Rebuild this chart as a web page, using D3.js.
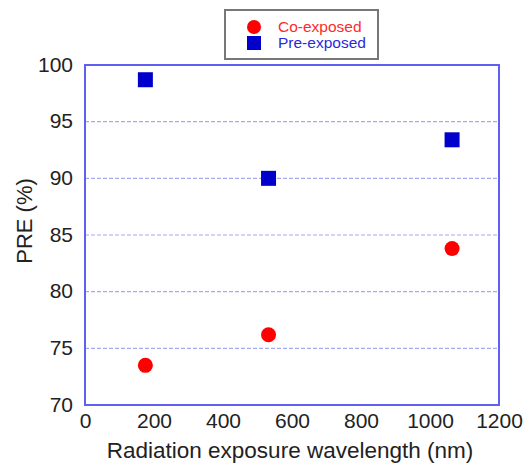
<!DOCTYPE html>
<html>
<head>
<meta charset="utf-8">
<script src="https://cdn.jsdelivr.net/npm/d3@7"></script>
<style>
  body { margin: 0; background: #fff; }
  text { font-family: "Liberation Sans", Arial, sans-serif; }
</style>
</head>
<body>
<div id="chart"></div>
<script>
// wavelengths (nm) and PRE values
var wavelengths = [175, 532, 1064];
var coExposed = [73.5, 76.2, 83.8];
var preExposed = [98.7, 90.0, 93.4];
var xTicks = [0, 200, 400, 600, 800, 1000, 1200];
var yTicks = [70, 75, 80, 85, 90, 95, 100];

var param = {
    width: 524,
    height: 466,
    left: 85,
    right: 499,
    top: 65,
    bottom: 405
};

var svg = d3.select("#chart").append("svg")
    .attr("width", param.width)
    .attr("height", param.height);

var x = d3.scaleLinear().domain([0, 1200]).range([param.left, param.right]);
var y = d3.scaleLinear().domain([70, 100]).range([param.bottom, param.top]);

// dashed grid
svg.append("g").selectAll("line")
    .data(yTicks.filter(function(d){ return d > 70 && d < 100; }))
    .enter().append("line")
    .attr("x1", param.left).attr("x2", param.right)
    .attr("y1", function(d){ return y(d); })
    .attr("y2", function(d){ return y(d); })
    .attr("stroke", "#a8a8f0")
    .attr("stroke-width", 1.2)
    .attr("stroke-dasharray", "4,2");

// frame
svg.append("rect")
    .attr("x", param.left).attr("y", param.top)
    .attr("width", param.right - param.left)
    .attr("height", param.bottom - param.top)
    .attr("fill", "none")
    .attr("stroke", "#6060f0")
    .attr("stroke-width", 2);

// axes (labels only, frame drawn above)
var yAxis = svg.append("g")
    .attr("transform", "translate(" + param.left + ",0)")
    .call(d3.axisLeft(y).tickValues(yTicks).tickFormat(d3.format("d")).tickSize(0).tickPadding(12));
var xAxis = svg.append("g")
    .attr("transform", "translate(0," + param.bottom + ")")
    .call(d3.axisBottom(x).tickValues(xTicks).tickFormat(d3.format("d")).tickSize(0).tickPadding(8));
[xAxis, yAxis].forEach(function(a){
    a.select(".domain").remove();
    a.selectAll("text")
	.attr("fill", "#222")
	.style("font-size", "21px");
});
yAxis.selectAll("text").attr("dy", "0.3em");

svg.append("text")
    .attr("x", 290)
    .attr("y", 458)
    .attr("text-anchor", "middle")
    .attr("fill", "#222")
    .style("font-size", "22.5px")
    .text("Radiation exposure wavelength (nm)");

svg.append("text")
    .attr("transform", "translate(32,221) rotate(-90)")
    .attr("text-anchor", "middle")
    .attr("fill", "#222")
    .style("font-size", "22px")
    .text("PRE (%)");

// markers
svg.append("g").selectAll("circle")
    .data(wavelengths)
    .enter().append("circle")
    .attr("cx", function(d){ return x(d); })
    .attr("cy", function(d, i){ return y(coExposed[i]); })
    .attr("r", 7.5)
    .attr("fill", "#ff0000");

svg.append("g").selectAll("rect")
    .data(wavelengths)
    .enter().append("rect")
    .attr("x", function(d){ return x(d) - 7.5; })
    .attr("y", function(d, i){ return y(preExposed[i]) - 7.5; })
    .attr("width", 15).attr("height", 15)
    .attr("fill", "#0000cc");

// legend
var legend = svg.append("g");
legend.append("rect")
    .attr("x", 225).attr("y", 10)
    .attr("width", 153).attr("height", 49)
    .attr("fill", "#fff")
    .attr("stroke", "#777")
    .attr("stroke-width", 2);
legend.append("circle")
    .attr("cx", 254).attr("cy", 27).attr("r", 7)
    .attr("fill", "#ff0000");
legend.append("rect")
    .attr("x", 247).attr("y", 36).attr("width", 14).attr("height", 14)
    .attr("fill", "#0000cc");
legend.append("text")
    .attr("x", 278).attr("y", 32)
    .attr("fill", "#ff2a2a")
    .style("font-size", "15.5px")
    .text("Co-exposed");
legend.append("text")
    .attr("x", 278).attr("y", 48)
    .attr("fill", "#2a2add")
    .style("font-size", "15.5px")
    .text("Pre-exposed");
</script>
</body>
</html>
